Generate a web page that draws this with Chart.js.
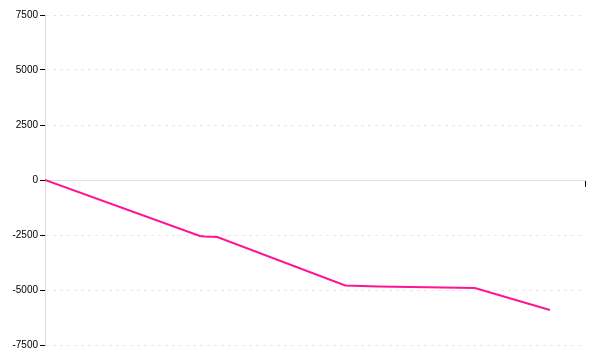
<!DOCTYPE html>
<html>
<head>
<meta charset="utf-8">
<script src="https://cdn.jsdelivr.net/npm/chart.js@4"></script>
<style>
  html, body { margin: 0; padding: 0; background: #fff; }
  #wrap { width: 600px; height: 360px; }
</style>
</head>
<body>
<div id="wrap"><canvas id="chart" width="600" height="360"></canvas></div>
<script>
// point positions along the x axis (no labels shown in the original)
const xValues = [0, 28.7, 29.6, 31.9, 55.6, 61.7, 73.7, 79.6, 93.5];
const yValues = [0, -2545, -2568, -2591, -4795, -4841, -4886, -4909, -5909];
const yTicks = [-7500, -5000, -2500, 0, 2500, 5000, 7500];

function start() {
    const points = xValues.map((x, i) => ({ x: x, y: yValues[i] }));
    const ctx = document.getElementById('chart').getContext('2d');

    new Chart(ctx, {
        type: 'line',
        data: {
            datasets: [{
                data: points,
                borderColor: '#ff1493',
                borderWidth: 2,
                pointRadius: 0,
                tension: 0,
                fill: false
            }]
        },
        options: {
            responsive: false,
            animation: false,
            layout: { padding: { top: 15, right: 15, bottom: 15, left: 0 } },
            plugins: { legend: { display: false }, tooltip: { enabled: false } },
            scales: {
                x: {
                    type: 'linear',
                    min: 0,
                    max: 100,
                    position: { y: 0 },
                    afterBuildTicks: (axis) => {
                        axis.ticks = [{ value: 0 }, { value: 100 }];
                    },
                    grid: {
                        drawOnChartArea: false,
                        color: '#000',
                        tickLength: 6
                    },
                    border: { display: true, color: '#dddddd', width: 1 },
                    ticks: { callback: () => '', padding: 0 }
                },
                y: {
                    min: yTicks[0],
                    max: yTicks[yTicks.length - 1],
                    afterBuildTicks: (axis) => {
                        axis.ticks = yTicks.map(v => ({ value: v }));
                    },
                    afterFit: (axis) => { axis.width = 45; },
                    grid: {
                        color: '#e6e6e6',
                        tickColor: '#000',
                        tickLength: 5
                    },
                    border: { display: true, color: '#dddddd', dash: [3, 4] },
                    ticks: {
                        color: '#000',
                        padding: 2,
                        font: { family: 'Liberation Sans', size: 10 },
                        callback: (v) => String(v)
                    }
                }
            }
        }
    });
}

window.addEventListener('load', start, false);
</script>
</body>
</html>
